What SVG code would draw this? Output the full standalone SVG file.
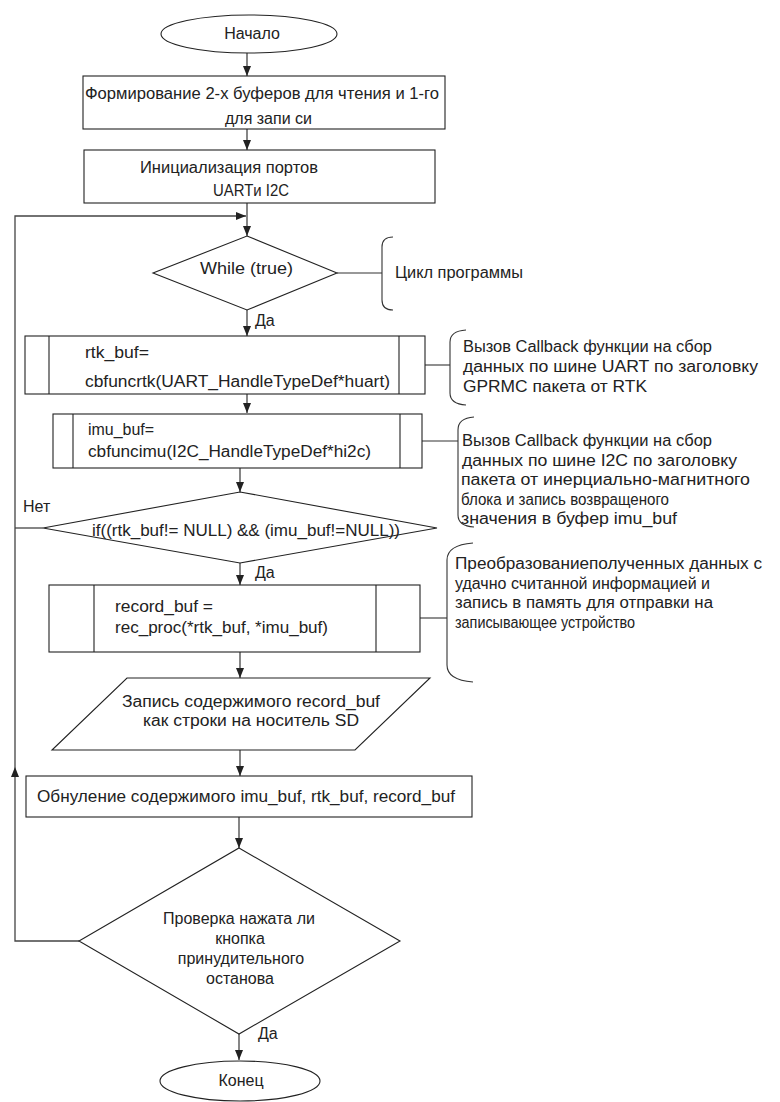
<svg xmlns="http://www.w3.org/2000/svg" width="780" height="1102" viewBox="0 0 780 1102">
<defs>
<marker id="arr" markerUnits="userSpaceOnUse" markerWidth="10" markerHeight="10" viewBox="0 0 10 10" refX="10" refY="5" orient="auto">
<path d="M0,1 L10,5 L0,9 Z" fill="#222"/>
</marker>
</defs>
<style>
.s{fill:#fff;stroke:#222;stroke-width:1.1}
.c{fill:none;stroke:#222;stroke-width:1.1}
.b{fill:none;stroke:#333;stroke-width:1.1}
.loop{fill:none;stroke:#444;stroke-width:1.3}
text{font-family:"Liberation Sans",Arial,sans-serif;font-size:16px;fill:#222}
.m{text-anchor:middle}
</style>
<rect width="780" height="1102" fill="#fff"/>

<g id="connectors">
<path class="c" d="M247,53 V76" marker-end="url(#arr)"/>
<path class="c" d="M247,129 V150" marker-end="url(#arr)"/>
<path class="c" d="M247,203 V236" marker-end="url(#arr)"/>
<path class="loop" d="M79,941 H15 V767" marker-end="url(#arr)"/>
<path class="loop" d="M15,767 V216 H246" marker-end="url(#arr)"/>
<path class="c" d="M247,310 V336" marker-end="url(#arr)"/>
<path class="c" d="M247,394 V413" marker-end="url(#arr)"/>
<path class="c" d="M240,468 V492" marker-end="url(#arr)"/>
<path class="loop" d="M43,528 H15"/>
<path class="c" d="M240,563 V585" marker-end="url(#arr)"/>
<path class="c" d="M240,652 V678" marker-end="url(#arr)"/>
<path class="c" d="M240,750 V776" marker-end="url(#arr)"/>
<path class="c" d="M239,817 V848" marker-end="url(#arr)"/>
<path class="c" d="M239,1034 V1060" marker-end="url(#arr)"/>
<path class="b" d="M337,273 H382"/>
<path class="b" d="M425,365 H450"/>
<path class="b" d="M422,441 H458"/>
<path class="b" d="M420,618 H447"/>
<text x="255" y="326">Да</text>
<text x="23" y="512">Нет</text>
<text x="255" y="578">Да</text>
<text x="258" y="1039">Да</text>
</g>

<g id="start">
<ellipse class="s" cx="249" cy="34" rx="88" ry="19"/>
<text class="m" x="252" y="39">Начало</text>
</g>

<g id="buffers">
<rect class="s" x="83" y="76" width="362" height="53"/>
<text x="85" y="99" textLength="354" lengthAdjust="spacingAndGlyphs">Формирование 2-х буферов для чтения и 1-го</text>
<text x="225" y="124" textLength="87" lengthAdjust="spacingAndGlyphs">для запи си</text>
</g>

<g id="init">
<rect class="s" x="84" y="150" width="351" height="53"/>
<text x="140" y="173" textLength="178" lengthAdjust="spacingAndGlyphs">Инициализация портов</text>
<text x="213" y="196" textLength="76" lengthAdjust="spacingAndGlyphs">UARTи I2C</text>
</g>

<g id="while">
<polygon class="s" points="247,236 337,273 247,310 153,273"/>
<text x="200" y="274" textLength="93" lengthAdjust="spacingAndGlyphs">While  (true)</text>
</g>

<g id="note-cycle">
<path class="b" d="M393,237 Q382,237 382,247 V300 Q382,310 393,310"/>
<text x="395" y="278" textLength="128" lengthAdjust="spacingAndGlyphs">Цикл программы</text>
</g>

<g id="rtk">
<rect class="s" x="25" y="336" width="400" height="58"/>
<path class="c" d="M49,336 V394 M399,336 V394"/>
<text x="85" y="358" textLength="64" lengthAdjust="spacingAndGlyphs">rtk_buf=</text>
<text x="85" y="387" textLength="305" lengthAdjust="spacingAndGlyphs">cbfuncrtk(UART_HandleTypeDef*huart)</text>
</g>

<g id="note-rtk">
<path class="b" d="M466,330 Q450,331 450,342 V393 Q450,404 466,405"/>
<text x="463" y="352" textLength="249" lengthAdjust="spacingAndGlyphs">Вызов Callback функции на сбор</text>
<text x="463" y="372" textLength="295" lengthAdjust="spacingAndGlyphs">данных по шине UART по заголовку</text>
<text x="463" y="392" textLength="184" lengthAdjust="spacingAndGlyphs">GPRMC пакета от RTK</text>
</g>

<g id="imu">
<rect class="s" x="53" y="414" width="369" height="54"/>
<path class="c" d="M73,414 V468 M400,414 V468"/>
<text x="88" y="435" textLength="66" lengthAdjust="spacingAndGlyphs">imu_buf=</text>
<text x="88" y="457" textLength="283" lengthAdjust="spacingAndGlyphs">cbfuncimu(I2C_HandleTypeDef*hi2c)</text>
</g>

<g id="note-imu">
<path class="b" d="M474,417 Q458,418 458,430 V515 Q458,526 474,527"/>
<text x="462" y="446" textLength="250" lengthAdjust="spacingAndGlyphs">Вызов Callback функции на сбор</text>
<text x="462" y="466" textLength="275" lengthAdjust="spacingAndGlyphs">данных по шине   I2C по заголовку</text>
<text x="461" y="485" textLength="289" lengthAdjust="spacingAndGlyphs">пакета от инерциально-магнитного</text>
<text x="461" y="505" textLength="208" lengthAdjust="spacingAndGlyphs">блока и запись возвращеного</text>
<text x="461" y="524" textLength="216" lengthAdjust="spacingAndGlyphs">значения в  буфер imu_buf</text>
</g>

<g id="check">
<polygon class="s" points="240,492 437,528 240,563 43,528"/>
<text x="92" y="536" textLength="308" lengthAdjust="spacingAndGlyphs">if((rtk_buf!= NULL) &amp;&amp; (imu_buf!=NULL))</text>
</g>

<g id="record">
<rect class="s" x="49" y="585" width="371" height="67"/>
<path class="c" d="M94,585 V652 M376,585 V652"/>
<text x="115" y="612" textLength="98" lengthAdjust="spacingAndGlyphs">record_buf =</text>
<text x="115" y="633" textLength="213" lengthAdjust="spacingAndGlyphs">rec_proc(*rtk_buf, *imu_buf)</text>
</g>

<g id="note-record">
<path class="b" d="M473,543 Q447,545 447,560 V665 Q447,680 473,682"/>
<text x="455" y="569" textLength="307" lengthAdjust="spacingAndGlyphs">Преобразованиеполученных данных с</text>
<text x="455" y="589" textLength="255" lengthAdjust="spacingAndGlyphs">удачно считанной информацией и</text>
<text x="455" y="608" textLength="258" lengthAdjust="spacingAndGlyphs">запись в память для отправки на</text>
<text x="455" y="628" textLength="180" lengthAdjust="spacingAndGlyphs">записывающее устройство</text>
</g>

<g id="write-sd">
<polygon class="s" points="127,678 430,678 355,750 52,750"/>
<text x="122" y="707" textLength="258" lengthAdjust="spacingAndGlyphs">Запись содержимого record_buf</text>
<text x="143" y="726" textLength="216" lengthAdjust="spacingAndGlyphs">как строки на носитель SD</text>
</g>

<g id="reset">
<rect class="s" x="26" y="776" width="446" height="41"/>
<text x="37" y="802" textLength="418" lengthAdjust="spacingAndGlyphs">Обнуление содержимого imu_buf, rtk_buf, record_buf</text>
</g>

<g id="stop-check">
<polygon class="s" points="239,848 400,941 239,1034 79,941"/>
<text class="m" x="239" y="924">Проверка нажата ли</text>
<text class="m" x="240" y="944">кнопка</text>
<text class="m" x="241" y="964">принудительного</text>
<text class="m" x="240" y="984">останова</text>
</g>

<g id="end">
<ellipse class="s" cx="240" cy="1081" rx="80" ry="20"/>
<text class="m" x="241" y="1086">Конец</text>
</g>
</svg>
